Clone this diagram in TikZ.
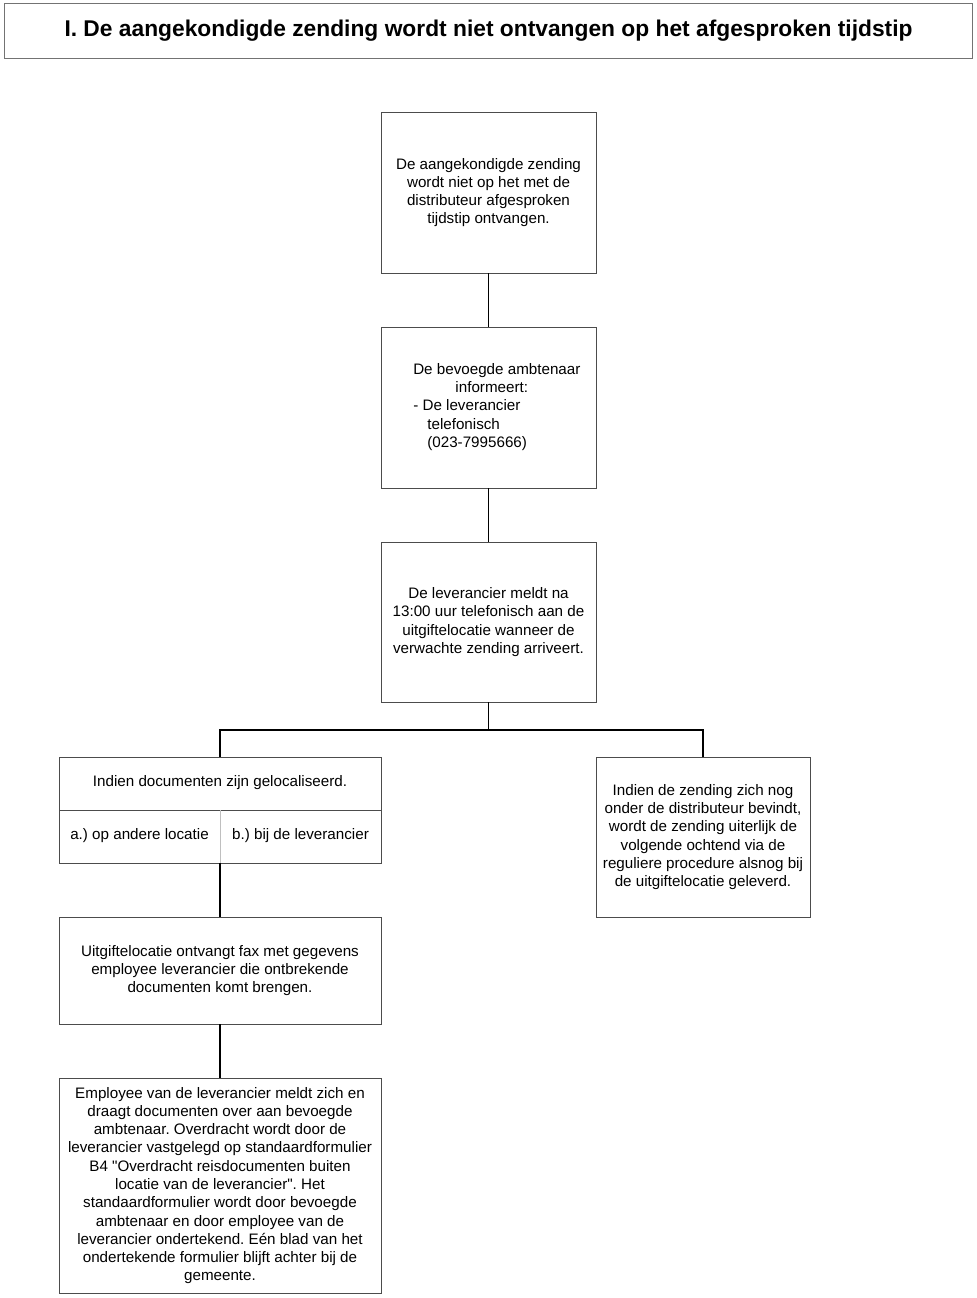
\documentclass[tikz,border=0pt]{standalone}
\usepackage{fontspec}
\setmainfont{Liberation Sans}
\usetikzlibrary{positioning}
\frenchspacing

\begin{document}
\begin{tikzpicture}[
  x=0.025cm, y=-0.025cm,
  font=\fontsize{10.8}{13}\selectfont,
  stepbox/.style={draw=black!70, line width=0.6pt, fill=white, align=center, inner sep=0pt},
  narrowbox/.style={stepbox, minimum width=5.375cm, minimum height=4.025cm},
  widebox/.style={stepbox, minimum width=8.05cm},
  wire/.style={draw=black, line width=0.9pt}
]
% Pixel grid of the page: x to the right, y downwards.
\useasboundingbox (0,0) rectangle (977,1298);

% --- Title ---
\node[stepbox, draw=black!55, minimum width=24.175cm, minimum height=1.375cm,
  font=\fontsize{16.2}{19}\selectfont\bfseries] (title) at (488.5,30.5)
  {I. De aangekondigde zending wordt niet ontvangen op het afgesproken tijdstip};

% --- Main column ---
\node[narrowbox] (b1) at (488.5,192.5)
  {De aangekondigde zending\\wordt niet op het met de\\distributeur afgesproken\\tijdstip ontvangen.};
\node[narrowbox] (b2) at (488.5,407.5) {};
\node[anchor=west, align=left, inner sep=0pt] (b2text) at (413,407)
  {De bevoegde ambtenaar\\
   \hspace*{30pt}informeert:\\
   - De leverancier\\
   \hspace*{10pt}telefonisch\\
   \hspace*{10pt}(023-7995666)};
\node[narrowbox, minimum height=4.0cm] (b3) at (488.5,622)
  {De leverancier meldt na\\13:00 uur telefonisch aan de\\uitgiftelocatie wanneer de\\verwachte zending arriveert.};

% --- Left branch: documents located ---
\node[widebox, minimum height=2.65cm] (docs) at (220,810) {};
\coordinate (docsL) at (59,810);
\coordinate (docsR) at (381,810);
\coordinate (docsM) at (220,810);
\draw[draw=black!70, line width=0.6pt] (docsL) -- (docsR);
\draw[draw=black!25, line width=0.6pt] (docsM) -- (docs.south);
\node (docsq) at (220,783) {Indien documenten zijn gelocaliseerd.};
\node (docsa) at (139.5,836) {a.) op andere locatie};
\node (docsb) at (300.5,836) {b.) bij de leverancier};

\node[widebox, minimum height=2.675cm] (b6) at (220,970.5)
  {Uitgiftelocatie ontvangt fax met gegevens\\employee leverancier die ontbrekende\\documenten komt brengen.};
\node[widebox, minimum height=5.375cm] (b7) at (220,1185.5)
  {Employee van de leverancier meldt zich en\\draagt documenten over aan bevoegde\\ambtenaar. Overdracht wordt door de\\leverancier vastgelegd op standaardformulier\\B4 \textquotedbl Overdracht reisdocumenten buiten\\locatie van de leverancier\textquotedbl. Het\\standaardformulier wordt door bevoegde\\ambtenaar en door employee van de\\leverancier ondertekend. Eén blad van het\\ondertekende formulier blijft achter bij de\\gemeente.};

% --- Right branch: still at the distributor ---
\node[stepbox, minimum width=5.35cm, minimum height=4.0cm] (b5) at (703,837)
  {Indien de zending zich nog\\onder de distributeur bevindt,\\wordt de zending uiterlijk de\\volgende ochtend via de\\reguliere procedure alsnog bij\\de uitgiftelocatie geleverd.};

% --- Connectors ---
\coordinate (fork) at (488.5,730);
\draw[wire] (b1.south) -- (b2.north);
\draw[wire] (b2.south) -- (b3.north);
\draw[wire] (b3.south) -- (fork) -| (docs.north);
\draw[wire] (fork) -| (b5.north);
\draw[wire] (docs.south) -- (b6.north);
\draw[wire] (b6.south) -- (b7.north);

\end{tikzpicture}
\end{document}
